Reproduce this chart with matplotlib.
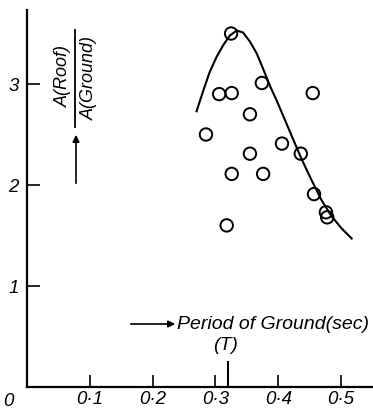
import matplotlib
matplotlib.use("Agg")
import matplotlib.pyplot as plt

# observed points (period of ground, A roof / A ground)
period = [0.325, 0.306, 0.326, 0.374, 0.455, 0.355, 0.285, 0.406, 0.436,
          0.355, 0.326, 0.376, 0.457, 0.476, 0.478, 0.318]
ratio = [3.50, 2.90, 2.91, 3.01, 2.91, 2.70, 2.50, 2.41, 2.31,
         2.31, 2.11, 2.11, 1.91, 1.73, 1.68, 1.60]

# fitted curve
curve_x = [0.270, 0.281, 0.291, 0.302, 0.313, 0.323, 0.334, 0.344, 0.355,
           0.366, 0.376, 0.387, 0.398, 0.411, 0.424, 0.437, 0.453, 0.469,
           0.485, 0.501, 0.517]
curve_y = [2.73, 2.94, 3.12, 3.27, 3.39, 3.48, 3.53, 3.51, 3.42,
           3.30, 3.15, 2.98, 2.83, 2.64, 2.45, 2.26, 2.05, 1.85,
           1.69, 1.57, 1.47]

x_ticks = [0.1, 0.2, 0.3, 0.4, 0.5]
x_labels = ["0·1", "0·2", "0·3", "0·4", "0·5"]
y_ticks = [1, 2, 3]
T = 0.32

W, H = 373, 411
plt.rcParams['font.family'] = 'Liberation Sans'

fig = plt.figure(figsize=(W / 100, H / 100), dpi=100)
ax = fig.add_axes([27 / W, 24 / H, 1 - 27 / W, 377 / H])

ax.plot(curve_x, curve_y, color='black', lw=1.5)
ax.scatter(period, ratio, s=80, facecolors='none', edgecolors='black', linewidths=1.4)

# the longer tick marking T
ax.plot([T, T], [0, 0.25], color='black', lw=1.5)

ax.set_xlim(0, (W - 27) / 628)
ax.set_ylim(0, 377 / 101)

for s in ['top', 'right']:
    ax.spines[s].set_visible(False)
for s in ['left', 'bottom']:
    ax.spines[s].set_linewidth(1.6)

ax.set_xticks(x_ticks)
ax.set_xticklabels(x_labels, fontsize=13.5, style='italic')
ax.set_yticks(y_ticks)
ax.set_yticklabels([str(v) for v in y_ticks], fontsize=13.5, style='italic')
ax.tick_params(direction='in', length=9, width=1.2, pad=3)
ax.tick_params(axis='y', pad=6)

def fx(px):
    return px / W

def fy(py):
    return 1 - py / H

fig.text(fx(8), fy(401), "0", fontsize=13.5, style='italic', ha='center', va='center')

# y label as a fraction
fig.text(fx(63), fy(76), "A(Roof)", fontsize=13, style='italic', rotation=90,
         ha='center', va='center')
fig.text(fx(89), fy(78), "A(Ground)", fontsize=13, style='italic', rotation=90,
         ha='center', va='center')
fig.add_artist(plt.Line2D([fx(75), fx(75)], [fy(30), fy(127)], color='black', lw=1.3))
fig.add_artist(matplotlib.patches.FancyArrowPatch(
    (fx(76), fy(186)), (fx(76), fy(132)), transform=fig.transFigure,
    arrowstyle='-|>', mutation_scale=10, color='black', lw=1.2))

# x label
fig.text(fx(177), fy(324), "Period of Ground(sec)", fontsize=14, style='italic',
         ha='left', va='center')
fig.add_artist(matplotlib.patches.FancyArrowPatch(
    (fx(128), fy(324)), (fx(178), fy(324)), transform=fig.transFigure,
    arrowstyle='-|>', mutation_scale=10, color='black', lw=1.2))
fig.text(fx(226), fy(345), "(T)", fontsize=14, style='italic', ha='center', va='center')

plt.savefig("out.png", dpi=100)
